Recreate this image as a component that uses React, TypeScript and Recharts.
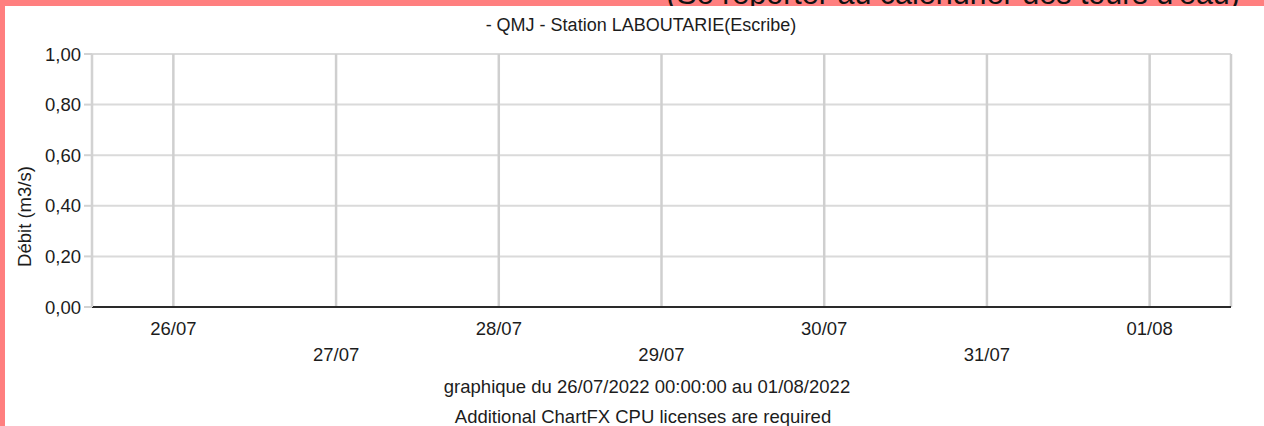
import React from 'react'
import { ComposedChart, Line, CartesianGrid, XAxis, YAxis } from 'recharts'

// jours affichés sur l'axe des x
const dates = ['26/07', '27/07', '28/07', '29/07', '30/07', '31/07', '01/08']
// débit moyen journalier : pas de mesure sur la période
const debit: (number | null)[] = [null, null, null, null, null, null, null]
const yTicks = [0, 0.2, 0.4, 0.6, 0.8, 1]

const data = dates.map((d, i) => ({ date: d, debit: debit[i] }))

const FONT = '"Liberation Sans", Arial, sans-serif'
const TXT = '#1c1c1c'
const PINK = '#ff7f7f'
const FS = 18.5

const fmt = (v: number) => Number(v).toFixed(2).replace('.', ',')

function DateTick(props: any) {
  const { x, y, payload, index } = props
  // ChartFX alterne les libellés sur deux lignes
  const off = index % 2 === 0 ? 28 : 54
  return (
    <text x={x} y={y + off} textAnchor="middle" fontSize={FS} fontFamily={FONT} fill={TXT}>
      {payload.value}
    </text>
  )
}

function YLabel(props: any) {
  const vb = props.viewBox
  const x = vb.x + 19
  const y = vb.y + vb.height / 2 + 36
  return (
    <text x={x} y={y} transform={`rotate(-90 ${x} ${y})`} textAnchor="middle" fontSize={FS} fontFamily={FONT} fill={TXT}>
      Débit (m3/s)
    </text>
  )
}

export default function App() {
  return (
    <div style={{ position: 'absolute', left: 0, top: 0, width: 1264, height: 426, background: '#fff', overflow: 'hidden' }}>
      <div style={{ position: 'absolute', left: 0, top: 0, width: 5, height: 426, background: PINK }} />
      <div style={{ position: 'absolute', left: 0, top: 0, width: 1264, height: 6, background: PINK }} />
      <div style={{ position: 'absolute', left: 0, top: 0 }}>
        <ComposedChart width={1264} height={426} data={data}
          margin={{ top: 54, right: 33, bottom: 59, left: 12 }}>
          <CartesianGrid vertical={false} stroke="#dadada" strokeWidth={2} />
          <CartesianGrid horizontal={false} stroke="#cfcfcf" strokeWidth={2.5} />
          <XAxis dataKey="date" scale="band" height={60} interval={0} tickLine={false} tickSize={0} tickMargin={0}
            axisLine={{ stroke: '#2a2a2a', strokeWidth: 2 }} tick={<DateTick />} />
          <YAxis type="number" width={80} domain={[0, 1]} allowDataOverflow ticks={yTicks} tickFormatter={fmt} interval={0}
            tickSize={8} tickMargin={3} axisLine={{ stroke: '#d2d2d2', strokeWidth: 2 }}
            tickLine={{ stroke: '#d2d2d2', strokeWidth: 2 }}
            tick={{ fontSize: FS, fontFamily: FONT, fill: TXT }}
            label={<YLabel />} />
          <YAxis yAxisId="r" type="number" orientation="right" width={0} domain={[0, 1]} allowDataOverflow
            tick={false} tickLine={false} axisLine={{ stroke: '#d2d2d2', strokeWidth: 2 }} />
          <Line dataKey="debit" stroke="#0000ff" dot={false} isAnimationActive={false} />
        </ComposedChart>
      </div>
      <svg width={1264} height={426} style={{ position: 'absolute', left: 0, top: 0, pointerEvents: 'none' }}>
        <defs>
          <clipPath id="band">
            <rect x={0} y={0} width={1264} height={6} />
          </clipPath>
        </defs>
        <text x={1240} y={4} textAnchor="end" fontSize={30.5} fontFamily={FONT} fill="#111" clipPath="url(#band)">
          (Se reporter au calendrier des tours d'eau)
        </text>
        <text x={641} y={31} textAnchor="middle" fontSize={18} fontFamily={FONT} fill={TXT}>
          - QMJ - Station LABOUTARIE(Escribe)
        </text>
        <text x={647} y={393} textAnchor="middle" fontSize={FS} fontFamily={FONT} fill={TXT}>
          graphique du 26/07/2022 00:00:00 au 01/08/2022
        </text>
        <text x={643} y={423} textAnchor="middle" fontSize={FS} fontFamily={FONT} fill={TXT}>
          Additional ChartFX CPU licenses are required
        </text>
      </svg>
    </div>
  )
}
